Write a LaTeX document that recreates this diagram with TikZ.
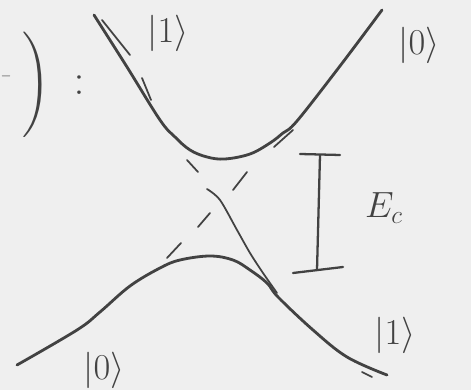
\documentclass[tikz,border=0pt]{standalone}
\usepackage{xcolor}
\usepackage{graphicx}
\definecolor{paper}{HTML}{EFEFEF}
\definecolor{ink}{HTML}{424242}
\tikzset{
  branch/.style={draw=ink, line width=1.6pt, line cap=round, line join=round},
  diabat/.style={draw=ink, line width=1pt, line cap=round},
  ket/.style={text=ink, font=\huge, inner sep=0pt},
}

\begin{document}
\begin{tikzpicture}
    \fill[paper] (0cm,0cm) rectangle (9.42cm,7.8cm);
    \useasboundingbox (0cm,0cm) rectangle (9.42cm,7.8cm);
    \clip (0cm,0cm) rectangle (9.42cm,7.8cm);

    % left-hand side, mostly cut off
    \node[text=ink, font=\scriptsize, inner sep=0pt] (lhsdash) at (0.12cm,6.28cm) {$-$};
    \node[text=ink, inner sep=0pt] (lhsparen) at (0.72cm,6.10cm) {\scalebox{2}{$\Biggr)$}};
    \node[text=ink, font=\Huge, inner sep=0pt] (lhscolon) at (1.58cm,6.10cm) {$:$};

    % upper and lower branches
    \draw[branch] plot[smooth, tension=0.6] coordinates {
      (1.88,7.50) (2.54,6.46) (3.20,5.40) (3.50,5.06) (3.80,4.80) (4.14,4.66)
      (4.50,4.62) (5.00,4.72) (5.40,4.94) (5.66,5.14) (5.94,5.38) (6.80,6.48) (7.64,7.60)};
    \draw[branch] plot[smooth, tension=0.6] coordinates {
      (0.34,0.50) (1.54,1.20) (2.00,1.56) (2.60,2.08) (3.20,2.44) (3.60,2.60) (4.20,2.68)
      (4.66,2.60) (5.00,2.40) (5.34,2.14) (5.56,1.86) (6.26,1.20) (6.94,0.66) (7.74,0.30)};

    % crossing states, sketched
    \draw[diabat] plot[smooth] coordinates {
      (4.14,4.02) (4.40,3.80) (4.74,3.20) (5.00,2.74) (5.26,2.34) (5.54,1.94)};
    \draw[diabat] (2.04cm,7.40cm) -- (2.60cm,6.70cm);
    \draw[diabat] (2.84cm,6.24cm) -- (3.02cm,5.80cm);
    \draw[diabat] (3.74cm,4.60cm) -- (3.96cm,4.36cm);
    \draw[diabat] (7.24cm,0.36cm) -- (7.44cm,0.26cm);
    \draw[diabat] (3.34cm,2.64cm) -- (3.62cm,2.94cm);
    \draw[diabat] (3.96cm,3.26cm) -- (4.20cm,3.54cm);
    \draw[diabat] (4.66cm,4.00cm) -- (4.94cm,4.36cm);
    \draw[diabat] (5.48cm,4.86cm) -- (5.86cm,5.20cm);

    % gap bar
    \coordinate (Gtop) at (6.40cm,4.70cm);
    \coordinate (Gbot) at (6.34cm,2.40cm);
    \draw[branch, line width=1.3pt] (6.00cm,4.72cm) -- (6.80cm,4.70cm);
    \draw[branch, line width=1.3pt] (5.86cm,2.34cm) -- (6.86cm,2.46cm);
    \draw[branch, line width=1.3pt] (Gtop) -- (Gbot);

    \node[ket] (Ec) at (7.68cm,3.64cm) {$E_c$};
    \node[ket] (K1up) at (3.36cm,7.14cm) {$|1\rangle$};
    \node[ket] (K0up) at (8.38cm,6.90cm) {$|0\rangle$};
    \node[ket] (K1dn) at (7.90cm,1.10cm) {$|1\rangle$};
    \node[ket] (K0dn) at (2.08cm,0.40cm) {$|0\rangle$};
  \end{tikzpicture}
\end{document}
